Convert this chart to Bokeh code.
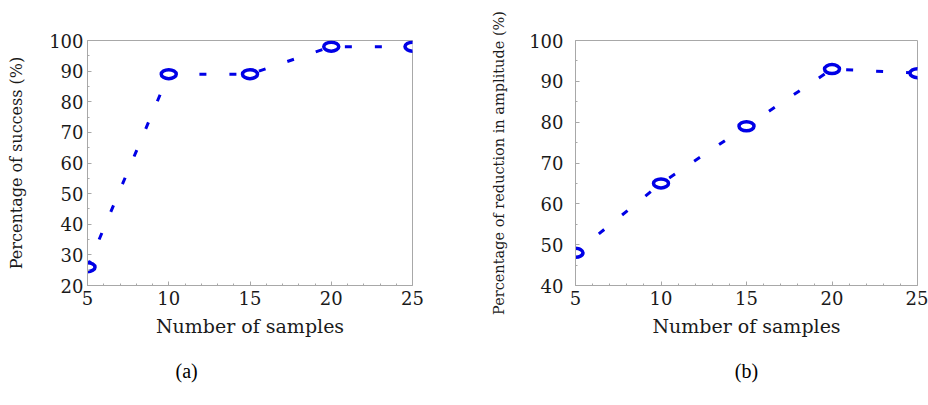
from bokeh.plotting import figure
from bokeh.layouts import row
from bokeh.models import Range1d, Title, FixedTicker
from bokeh.embed import file_html
from bokeh.resources import INLINE

# ---- data ----
samples = [5, 10, 15, 20, 25]
success_pct = [26, 89, 89, 98, 98]
reduction_pct = [48, 65, 79, 93, 92]

x_ticks = [5, 10, 15, 20, 25]
y_ticks_a = [20, 30, 40, 50, 60, 70, 80, 90, 100]
y_ticks_b = [40, 50, 60, 70, 80, 90, 100]

x_label = "Number of samples"
y_label_a = "Percentage of success (%)"
y_label_b = "Percentage of reduction in amplitude (%)"
panel_a = "(a)"
panel_b = "(b)"

BLUE = "#0000e6"
GRAY = "#a8a8a8"
FONT = "DejaVu Serif"
TXT = "#1a1a1a"


def make_panel(ys, y0, y1, yticks, ylab, ylab_size, panel, bl, br, bt,
               ytick_standoff, ylab_standoff, panel_align, panel_offset):
    p = figure(width=464, height=405, x_range=Range1d(5, 25), y_range=Range1d(y0, y1),
               output_backend="svg", toolbar_location=None,
               min_border_left=bl, min_border_right=br, min_border_top=bt,
               min_border_bottom=120)
    p.grid.visible = False
    p.outline_line_color = GRAY
    p.outline_line_width = 1
    p.background_fill_color = "white"
    p.border_fill_color = "white"

    p.xaxis.ticker = FixedTicker(ticks=x_ticks,
                                 minor_ticks=[v for v in range(5, 26) if v % 5])
    p.yaxis.ticker = FixedTicker(ticks=yticks,
                                 minor_ticks=[v + 5 for v in yticks[:-1]])
    for ax in (p.xaxis, p.yaxis):
        ax.axis_line_color = GRAY
        ax.major_tick_line_color = GRAY
        ax.minor_tick_line_color = GRAY
        ax.major_tick_in = 4
        ax.major_tick_out = 0
        ax.minor_tick_in = 2
        ax.minor_tick_out = 0
        ax.major_label_text_font = FONT
        ax.major_label_text_font_size = "18px"
        ax.major_label_text_color = TXT
        ax.axis_label_text_font = FONT
        ax.axis_label_text_font_style = "normal"
        ax.axis_label_text_color = TXT
    p.xaxis.major_label_standoff = 5
    p.yaxis.major_label_standoff = ytick_standoff
    p.xaxis.axis_label = x_label
    p.xaxis.axis_label_text_font_size = "19px"
    p.xaxis.axis_label_standoff = 7
    p.yaxis.axis_label = ylab
    p.yaxis.axis_label_text_font_size = ylab_size
    p.yaxis.axis_label_standoff = ylab_standoff

    p.line(samples, ys, line_color=BLUE, line_width=3, line_dash="7 23")
    p.ellipse(samples, ys, width=15, height=9, width_units="screen",
              height_units="screen", fill_color="white", line_color=BLUE,
              line_width=3.5)

    p.add_layout(Title(text=panel, align=panel_align, offset=panel_offset,
                       standoff=36, text_font="Liberation Serif",
                       text_font_size="20px", text_font_style="normal",
                       text_color="black"), "below")
    return p


pa = make_panel(success_pct, 20, 100, y_ticks_a, y_label_a, "16px", panel_a,
                87, 52, 38, 4, 20, "left", 88)
pb = make_panel(reduction_pct, 40, 100, y_ticks_b, y_label_b, "14.5px", panel_b,
                111, 11, 40, 12, 19, "center", 0)

layout = row(pa, pb)
open("out.html", "w").write(file_html(layout, INLINE))
